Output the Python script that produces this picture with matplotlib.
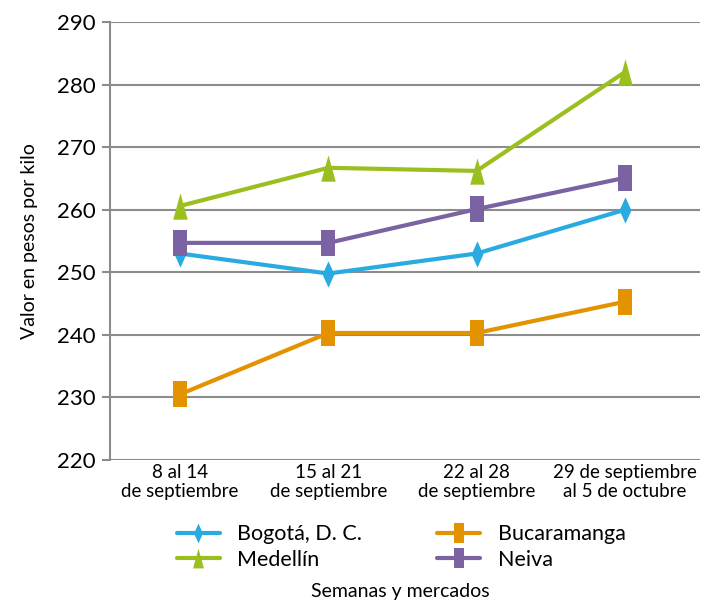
import matplotlib
matplotlib.use("Agg")
import matplotlib.pyplot as plt
from matplotlib.path import Path

plt.rcParams['font.family'] = ['Lato', 'DejaVu Sans']

categories = ["8 al 14\nde septiembre", "15 al 21\nde septiembre",
              "22 al 28\nde septiembre", "29 de septiembre\nal 5 de octubre"]
bogota = [253.0, 249.8, 253.0, 260.0]
bucaramanga = [230.5, 240.3, 240.3, 245.3]
medellin = [260.6, 266.7, 266.2, 282.0]
neiva = [254.7, 254.7, 260.1, 265.1]
yticks = [220, 230, 240, 250, 260, 270, 280, 290]

diamond = Path([(0, -1), (0.45, 0), (0, 1), (-0.45, 0), (0, -1)],
               [Path.MOVETO, Path.LINETO, Path.LINETO, Path.LINETO, Path.CLOSEPOLY])
rect = Path([(-0.5, -1), (0.5, -1), (0.5, 1), (-0.5, 1), (-0.5, -1)],
            [Path.MOVETO, Path.LINETO, Path.LINETO, Path.LINETO, Path.CLOSEPOLY])
tri = Path([(-0.55, -1), (0.55, -1), (0, 1), (-0.55, -1)],
           [Path.MOVETO, Path.LINETO, Path.LINETO, Path.CLOSEPOLY])

fig = plt.figure(figsize=(7.01, 6.05), dpi=100)
ax = fig.add_axes([110/701, 1 - 460/605, 590/701, (460 - 22)/605])

x = list(range(len(categories)))
series = [
    ("Bogotá, D. C.", bogota, "#29ABE2", diamond, 19),
    ("Bucaramanga", bucaramanga, "#E39200", rect, 19),
    ("Medellín", medellin, "#9BBF1E", tri, 19),
    ("Neiva", neiva, "#7B62A3", rect, 19),
]
handles = {}
for name, vals, col, mk, ms in series:
    h, = ax.plot(x, vals, color=col, lw=3, marker=mk, markersize=ms,
                 markeredgewidth=0, label=name, solid_capstyle='round')
    handles[name] = h

ax.set_xlim(-0.472, 3.506)
ax.set_ylim(220, 290)
ax.set_yticks(yticks)
ax.set_xticks(x)
ax.set_xticklabels(categories, fontsize=13.5, linespacing=1.15)
ax.tick_params(axis='x', length=0, pad=3)
ax.tick_params(axis='y', length=6, color='#8c8c8c', width=1.5, labelsize=16, pad=4)
ax.grid(axis='y', color='#8c8c8c', lw=1.5)
ax.set_axisbelow(True)
for s in ['top', 'right', 'bottom']:
    ax.spines[s].set_visible(False)
ax.spines['left'].set_color('#8c8c8c')
ax.spines['left'].set_linewidth(1.5)
ax.set_ylabel("Valor en pesos por kilo", fontsize=14, labelpad=14)

order = ["Bogotá, D. C.", "Medellín", "Bucaramanga", "Neiva"]
leg = fig.legend([handles[n] for n in order], order, ncol=2,
                 loc='center', bbox_to_anchor=(401/701, 1 - 547/605),
                 frameon=False, fontsize=15.5, handlelength=2.0, handletextpad=0.8,
                 columnspacing=3.5, labelspacing=0.25, markerscale=0.75)
fig.text(400/701, 1 - 592/605, "Semanas y mercados", ha='center', va='center', fontsize=14)

fig.savefig("out.png", dpi=100)
